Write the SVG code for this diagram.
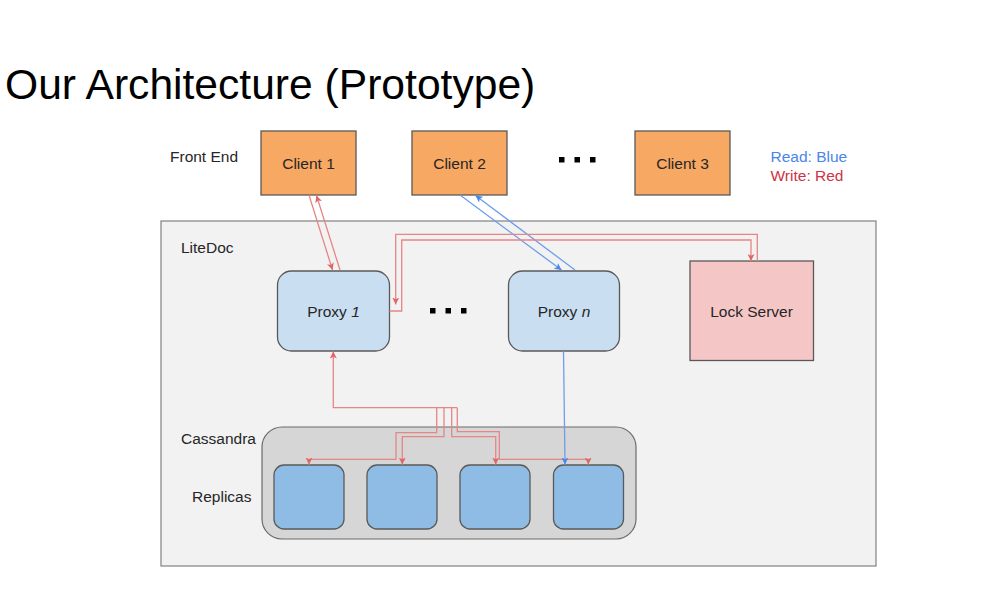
<svg xmlns="http://www.w3.org/2000/svg" width="995" height="603" viewBox="0 0 995 603">
<style>
text{font-family:"Liberation Sans",Arial,sans-serif;fill:#262626;font-size:15.5px}
.box{stroke:#595959;stroke-width:1.3}
.client{fill:#f7a862}
.proxy{fill:#c9def1}
.rep{fill:#8fbce4}
.red{fill:none;stroke:#e88585;stroke-width:1.3;marker-end:url(#ar)}
.blue{fill:none;stroke:#6d9eeb;stroke-width:1.3;marker-end:url(#ab)}
.dot{fill:#000}
</style>
<defs>
<marker id="ar" viewBox="0 0 8 8" refX="8" refY="4" markerWidth="7" markerHeight="7" markerUnits="userSpaceOnUse" orient="auto"><path d="M0,0 L8,4 L0,8 L2,4 z" fill="#e06666"/></marker>
<marker id="ab" viewBox="0 0 8 8" refX="8" refY="4" markerWidth="7" markerHeight="7" markerUnits="userSpaceOnUse" orient="auto"><path d="M0,0 L8,4 L0,8 L2,4 z" fill="#4a86e8"/></marker>
</defs>
<rect width="995" height="603" fill="#fff"/>
<text x="5" y="98.5" style="font-size:42.6px;fill:#000">Our Architecture (Prototype)</text>

<g id="litedoc">
<rect x="161" y="221" width="715" height="345" fill="#f2f2f2" stroke="#808080" stroke-width="1.2"/>
<text x="181" y="253">LiteDoc</text>
</g>
<g id="frontend-label"><text x="170" y="162">Front End</text></g>
<g id="legend">
<text x="770.5" y="162" style="fill:#4a86e8">Read: Blue</text>
<text x="770.5" y="181" style="fill:#cc3344">Write: Red</text>
</g>

<g id="client1"><rect class="box client" x="261" y="131" width="95" height="64"/><text x="308.5" y="169" text-anchor="middle">Client 1</text></g>
<g id="client2"><rect class="box client" x="412" y="131" width="95" height="64"/><text x="459.5" y="169" text-anchor="middle">Client 2</text></g>
<g id="client3"><rect class="box client" x="635" y="131" width="95" height="64"/><text x="682.5" y="169" text-anchor="middle">Client 3</text></g>
<g id="client-dots"><rect class="dot" x="559" y="157" width="5.5" height="5.5"/><rect class="dot" x="574.5" y="157" width="5.5" height="5.5"/><rect class="dot" x="590" y="157" width="5.5" height="5.5"/></g>

<g id="proxy1"><rect class="box proxy" x="277.5" y="271" width="112" height="80" rx="14"/><text x="333.5" y="317" text-anchor="middle">Proxy <tspan font-style="italic">1</tspan></text></g>
<g id="proxyn"><rect class="box proxy" x="508.5" y="271" width="111" height="80" rx="14"/><text x="564" y="317" text-anchor="middle">Proxy <tspan font-style="italic">n</tspan></text></g>
<g id="proxy-dots"><rect class="dot" x="430" y="308" width="5.5" height="5.5"/><rect class="dot" x="445.5" y="308" width="5.5" height="5.5"/><rect class="dot" x="461" y="308" width="5.5" height="5.5"/></g>
<g id="lockserver"><rect class="box" x="690" y="261" width="123.5" height="99.5" fill="#f5c6c6"/><text x="751.5" y="317" text-anchor="middle">Lock Server</text></g>

<g id="cassandra">
<rect x="262" y="427" width="374" height="112" rx="20" fill="#d6d6d6" stroke="#6b6b6b" stroke-width="1.2"/>
<text x="181" y="444">Cassandra</text>
<text x="192" y="502">Replicas</text>
</g>
<g id="replica1"><rect class="box rep" x="274" y="465" width="70" height="64" rx="10"/></g>
<g id="replica2"><rect class="box rep" x="367" y="465" width="70" height="64" rx="10"/></g>
<g id="replica3"><rect class="box rep" x="460" y="465" width="70" height="64" rx="10"/></g>
<g id="replica4"><rect class="box rep" x="553.5" y="465" width="70" height="64" rx="10"/></g>

<g id="connectors">
<path class="red" d="M309,195 L332.5,270"/>
<path class="red" d="M340,270 L316.5,195.5"/>
<path class="blue" d="M460,195 L561.5,270"/>
<path class="blue" d="M575,270 L475.5,195.5"/>
<path class="red" d="M389.5,311 H401.7 V240 H751 V261"/>
<path class="red" d="M757.3,261 V234.3 H395.7 V304.5"/>
<path class="red" d="M457.3,407.7 H333.3 V351.5"/>
<path class="red" d="M436.7,407.7 V432.7 H396 V459.3 H309 V464.5"/>
<path class="red" d="M444,407.7 V436.7 H402.3 V464.5"/>
<path class="red" d="M451.7,407.7 V436.7 H495.7 V464.5"/>
<path class="red" d="M457.3,407.7 V431.7 H499.3 V459.3 H588.3 V464.5"/>
<path class="blue" d="M563.5,351 L565,464.5"/>
</g>
</svg>
